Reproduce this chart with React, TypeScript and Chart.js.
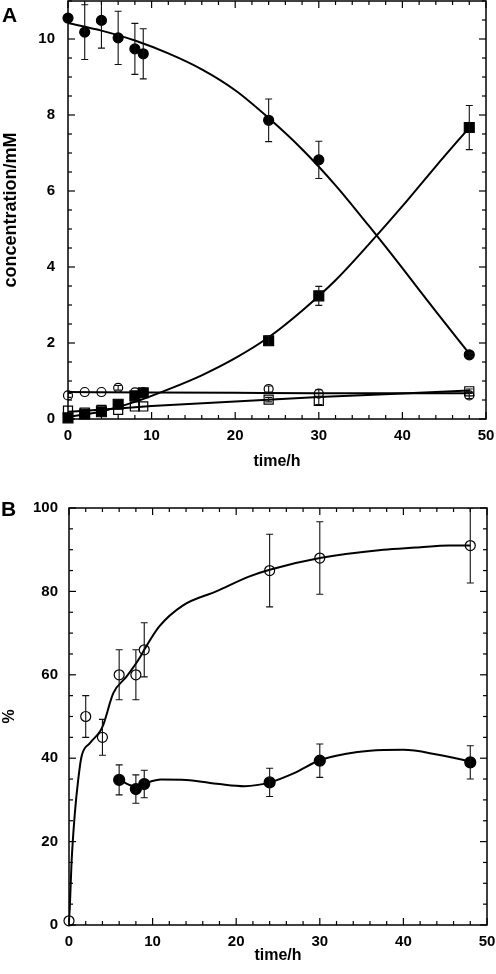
import React, { useEffect, useRef } from "react";
import { Chart, registerables } from "chart.js";

Chart.register(...registerables);

// ---------- Panel A: concentrations ----------
const timeA = [0, 2, 4, 6, 8, 9, 24, 30, 48];
const filledCircleA = [10.55, 10.18, 10.49, 10.03, 9.74, 9.61, 7.86, 6.82, 1.69];
const filledCircleErrA = [0, 0.72, 0.73, 0.7, 0.67, 0.66, 0.56, 0.49, 0.05];
const filledSquareA = [0.03, 0.13, 0.19, 0.39, 0.61, 0.69, 2.06, 3.24, 7.67];
const filledSquareErrA = [0, 0, 0, 0, 0, 0, 0.12, 0.25, 0.58];
const openCircleA = [0.62, 0.71, 0.71, 0.82, 0.7, 0.7, 0.79, 0.67, 0.62];
const openCircleErrA = [0.05, 0, 0, 0.06, 0, 0, 0.08, 0.1, 0.08];
const openSquareA = [0.22, 0.17, 0.24, 0.24, 0.33, 0.33, 0.51, 0.48, 0.73];
const openSquareErrA = [0, 0, 0, 0, 0, 0, 0.06, 0.1, 0.06];

// fitted curves
const fitFilledCircleTimeA = [0, 4, 8, 12, 16, 20, 24, 28, 32, 36, 40, 44, 48];
const fitFilledCircleA = [10.42, 10.22, 9.96, 9.62, 9.2, 8.65, 7.92, 7.1, 6.15, 5.08, 3.97, 2.83, 1.72];
const fitFilledSquareTimeA = [0, 4, 8, 12, 16, 20, 24, 28, 32, 36, 40, 44, 48];
const fitFilledSquareA = [0.05, 0.2, 0.45, 0.78, 1.15, 1.6, 2.15, 2.85, 3.65, 4.6, 5.6, 6.65, 7.67];
const fitOpenCircleTimeA = [0, 10, 20, 30, 40, 48];
const fitOpenCircleA = [0.71, 0.7, 0.69, 0.68, 0.68, 0.68];
const fitOpenSquareTimeA = [0, 5, 10, 20, 30, 40, 48];
const fitOpenSquareA = [0.19, 0.26, 0.34, 0.46, 0.58, 0.67, 0.75];

// ---------- Panel B: percentages ----------
const timeOpenB = [0, 2, 4, 6, 8, 9, 24, 30, 48];
const openCircleB = [1, 50, 45, 60, 60, 66, 85, 88, 91];
const openCircleErrB = [0, 5, 4.3, 6, 6, 6.5, 8.7, 8.7, 9];
const timeFilledB = [6, 8, 9, 24, 30, 48];
const filledCircleB = [34.8, 32.6, 33.8, 34.2, 39.4, 39.0];
const filledCircleErrB = [3.6, 3.4, 3.3, 3.4, 4, 4];

const fitOpenTimeB = [0, 0.1, 0.3, 0.7, 1.1, 1.5, 2.5, 3.7, 4.1, 5.3, 6.9, 8.5, 9, 10.8, 13.6, 17.6, 21.6, 24, 30, 37.6, 41.5, 45.5, 48];
const fitOpenB = [1, 4.4, 14.8, 26.8, 34.8, 40.4, 43.6, 46.4, 48, 55.6, 59.6, 64.2, 66, 71.6, 76.6, 80, 83.6, 85.2, 88, 90, 90.5, 91, 91];
const fitFilledTimeB = [6, 7, 8, 9, 11, 14, 18, 21, 24, 27, 30, 33, 36, 40, 44, 48];
const fitFilledB = [35, 33.8, 33.2, 33.9, 34.9, 34.8, 33.8, 33.3, 34.2, 36.5, 39.5, 41, 41.8, 42, 40.9, 39.2];

// ---------- ticks ----------
const xTickLabels = [0, 10, 20, 30, 40, 50];
const yTickLabelsA = [0, 2, 4, 6, 8, 10];
const yTickLabelsB = [0, 20, 40, 60, 80, 100];

const FONT = "'Liberation Sans', Arial, Helvetica, sans-serif";

const pts = (xs: number[], ys: number[]) => xs.map((x, i) => ({ x, y: ys[i] }));

const framePlugin = {
  id: "frameTicks",
  afterDraw(chart: any, _args: any, opts: any) {
    const { ctx, chartArea } = chart;
    const { left, right, top, bottom } = chartArea;
    const xs = chart.scales.x;
    const ys = chart.scales.y;
    ctx.save();
    ctx.strokeStyle = "#000";
    ctx.lineWidth = 1.5;
    ctx.strokeRect(left, top, right - left, bottom - top);
    ctx.lineWidth = 1.2;
    const line = (x1: number, y1: number, x2: number, y2: number) => {
      ctx.beginPath();
      ctx.moveTo(x1, y1);
      ctx.lineTo(x2, y2);
      ctx.stroke();
    };
    const n = Math.round((xs.max - xs.min) / opts.xMinor);
    for (let i = 0; i <= n; i++) {
      const v = xs.min + i * opts.xMinor;
      const px = xs.getPixelForValue(v);
      const major = Math.abs(v / opts.xMajor - Math.round(v / opts.xMajor)) < 1e-6;
      const len = major ? 7 : 4;
      line(px, bottom, px, bottom - len);
      line(px, top, px, top + len);
    }
    const m = Math.round((ys.max - ys.min) / opts.yMinor);
    for (let i = 0; i <= m; i++) {
      const v = ys.min + i * opts.yMinor;
      const py = ys.getPixelForValue(v);
      const major = Math.abs(v / opts.yMajor - Math.round(v / opts.yMajor)) < 1e-6;
      const len = major ? 7 : 4;
      line(left, py, left + len, py);
      line(right, py, right - len, py);
    }
    // panel letter
    ctx.fillStyle = "#000";
    ctx.font = `bold 21px ${FONT}`;
    ctx.textBaseline = "alphabetic";
    ctx.textAlign = "left";
    ctx.fillText(opts.letter, opts.letterX, opts.letterY);
    ctx.restore();
  },
};

const errorBarPlugin = {
  id: "errorBars",
  afterDatasetsDraw(chart: any) {
    const { ctx, chartArea } = chart;
    const xs = chart.scales.x;
    const ys = chart.scales.y;
    ctx.save();
    ctx.beginPath();
    ctx.rect(chartArea.left, chartArea.top, chartArea.right - chartArea.left, chartArea.bottom - chartArea.top);
    ctx.clip();
    ctx.strokeStyle = "#111";
    ctx.lineWidth = 1.1;
    chart.data.datasets.forEach((ds: any) => {
      if (!ds.errors) return;
      ds.data.forEach((p: any, i: number) => {
        const e = ds.errors[i];
        if (!e) return;
        const px = xs.getPixelForValue(p.x);
        const y1 = ys.getPixelForValue(p.y + e);
        const y2 = ys.getPixelForValue(p.y - e);
        ctx.beginPath();
        ctx.moveTo(px, y1);
        ctx.lineTo(px, y2);
        ctx.moveTo(px - 3.5, y1);
        ctx.lineTo(px + 3.5, y1);
        ctx.moveTo(px - 3.5, y2);
        ctx.lineTo(px + 3.5, y2);
        ctx.stroke();
      });
    });
    ctx.restore();
  },
};

const markerDs = (data: any[], errors: number[] | null, style: string, filled: boolean, radius: number) => ({
  data,
  errors,
  showLine: false,
  pointStyle: style,
  pointRadius: radius,
  pointBackgroundColor: filled ? "#000" : "rgba(0,0,0,0)",
  pointBorderColor: "#000",
  pointBorderWidth: 1.2,
  clip: false,
});

const curveDs = (data: any[]) => ({
  data,
  showLine: true,
  borderColor: "#000",
  borderWidth: 2,
  pointRadius: 0,
  cubicInterpolationMode: "monotone",
  fill: false,
});

function makeOptions(cfg: {
  ymax: number;
  yTicks: number[];
  yWidth: number;
  yPad: number;
  xHeight: number;
  padding: any;
  yTitle: string;
  yTitleSize: number;
  frame: any;
}) {
  const tickFont = { family: FONT, size: 15, weight: "bold" as const };
  const titleFont = { family: FONT, size: 16, weight: "bold" as const };
  const resetPadding = (s: any) => {
    s.paddingLeft = 0;
    s.paddingRight = 0;
    s.paddingTop = 0;
    s.paddingBottom = 0;
  };
  return {
    responsive: false,
    animation: false,
    layout: { padding: cfg.padding, autoPadding: false },
    plugins: {
      legend: { display: false },
      tooltip: { enabled: false },
      frameTicks: cfg.frame,
    },
    scales: {
      x: {
        type: "linear",
        min: 0,
        max: 50,
        afterBuildTicks: (s: any) => {
          s.ticks = xTickLabels.map((v) => ({ value: v }));
        },
        afterFit: (s: any) => {
          s.height = cfg.xHeight;
          resetPadding(s);
        },
        grid: { display: false, drawTicks: false },
        border: { display: false },
        ticks: { color: "#000", font: tickFont, padding: 8, maxRotation: 0, autoSkip: false },
        title: { display: true, text: "time/h", color: "#000", font: titleFont, padding: { top: 0, bottom: 9 } },
      },
      y: {
        type: "linear",
        min: 0,
        max: cfg.ymax,
        afterBuildTicks: (s: any) => {
          s.ticks = cfg.yTicks.map((v) => ({ value: v }));
        },
        afterFit: (s: any) => {
          s.width = cfg.yWidth;
          resetPadding(s);
        },
        grid: { display: false, drawTicks: false },
        border: { display: false },
        ticks: { color: "#000", font: tickFont, padding: cfg.yPad, autoSkip: false },
        title: {
          display: true,
          text: cfg.yTitle,
          color: "#000",
          font: { family: FONT, size: cfg.yTitleSize, weight: "bold" },
          padding: { top: 0, bottom: 0 },
        },
      },
    },
  } as any;
}

function PanelA() {
  const ref = useRef<HTMLCanvasElement>(null);
  useEffect(() => {
    const chart = new Chart(ref.current!, {
      type: "scatter",
      data: {
        datasets: [
          markerDs(pts(timeA, filledCircleA), filledCircleErrA, "circle", true, 5),
          markerDs(pts(timeA, filledSquareA), filledSquareErrA, "rect", true, 7),
          markerDs(pts(timeA, openCircleA), openCircleErrA, "circle", false, 4.5),
          markerDs(pts(timeA, openSquareA), openSquareErrA, "rect", false, 6.4),
          curveDs(pts(fitFilledCircleTimeA, fitFilledCircleA)),
          curveDs(pts(fitFilledSquareTimeA, fitFilledSquareA)),
          curveDs(pts(fitOpenCircleTimeA, fitOpenCircleA)),
          curveDs(pts(fitOpenSquareTimeA, fitOpenSquareA)),
        ] as any,
      },
      options: makeOptions({
        ymax: 11,
        yTicks: yTickLabelsA,
        yWidth: 68,
        yPad: 13,
        xHeight: 61,
        padding: { top: 1, right: 10, left: 0, bottom: 0 },
        yTitle: "concentration/mM",
        yTitleSize: 18,
        frame: { xMinor: 2, xMajor: 10, yMinor: 0.5, yMajor: 2, letter: "A", letterX: 2, letterY: 22 },
      }),
      plugins: [framePlugin, errorBarPlugin],
    });
    return () => chart.destroy();
  }, []);
  return <canvas ref={ref} width={496} height={480} style={{ position: "absolute", left: 0, top: 0 }} />;
}

function PanelB() {
  const ref = useRef<HTMLCanvasElement>(null);
  useEffect(() => {
    const chart = new Chart(ref.current!, {
      type: "scatter",
      data: {
        datasets: [
          markerDs(pts(timeFilledB, filledCircleB), filledCircleErrB, "circle", true, 5.5),
          markerDs(pts(timeOpenB, openCircleB), openCircleErrB, "circle", false, 5),
          curveDs(pts(fitFilledTimeB, fitFilledB)),
          curveDs(pts(fitOpenTimeB, fitOpenB)),
        ] as any,
      },
      options: makeOptions({
        ymax: 100,
        yTicks: yTickLabelsB,
        yWidth: 69,
        yPad: 11,
        xHeight: 49,
        padding: { top: 18, right: 9, left: 0, bottom: 0 },
        yTitle: "%",
        yTitleSize: 16,
        frame: { xMinor: 2, xMajor: 10, yMinor: 5, yMajor: 20, letter: "B", letterX: 1, letterY: 26 },
      }),
      plugins: [framePlugin, errorBarPlugin],
    });
    return () => chart.destroy();
  }, []);
  return <canvas ref={ref} width={496} height={484} style={{ position: "absolute", left: 0, top: 490 }} />;
}

export default function App() {
  return (
    <div style={{ position: "absolute", left: 0, top: 0, width: 496, height: 974, background: "#fff" }}>
      <PanelA />
      <PanelB />
    </div>
  );
}
